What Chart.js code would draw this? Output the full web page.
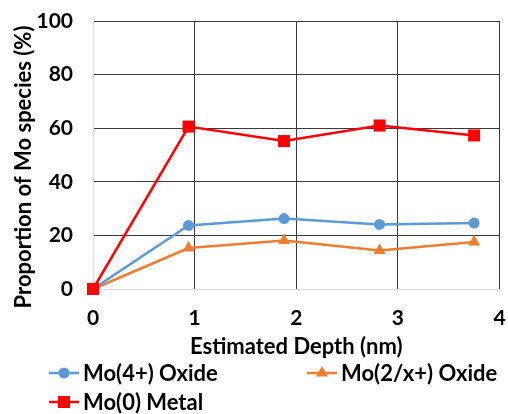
<!DOCTYPE html>
<html>
<head>
<meta charset="utf-8">
<script src="https://cdn.jsdelivr.net/npm/chart.js@4"></script>
<style>
  body{margin:0;background:#fff;}
  #wrap{width:508px;height:414px;}
</style>
</head>
<body>
<div id="wrap"><canvas id="grafico" width="508" height="414"></canvas></div>
<script>
// depth in nm and species proportions in %
const depth = [0, 0.94, 1.88, 2.82, 3.75];
const mo4Oxide = [0, 23.7, 26.3, 24.1, 24.6];
const mo2xOxide = [0, 15.3, 18.1, 14.4, 17.5];
const mo0Metal = [0, 60.6, 55.2, 61.0, 57.3];
const seriesNames = ['Mo(4+) Oxide', 'Mo(2/x+) Oxide', 'Mo(0) Metal'];
const yTitle = 'Proportion of Mo species (%)';
const xTitle = 'Estimated Depth (nm)';

const FUENTE = 'Lato, "Open Sans", sans-serif';

function puntos(valores){
    return depth.map((d, i) => ({x: d, y: valores[i]}));
}

// legend drawn by hand: two columns, third entry on a second row
const leyendaPos = [
    {x: 49, y: 373},
    {x: 307, y: 373},
    {x: 49, y: 402},
];
const leyenda = {
    id: 'leyenda',
    afterDraw(chart){
        const ctx = chart.ctx;
        chart.data.datasets.forEach((ds, i) => {
            const p = leyendaPos[i];
            ctx.save();
            ctx.strokeStyle = ds.borderColor;
            ctx.lineWidth = ds.borderWidth;
            ctx.beginPath();
            ctx.moveTo(p.x, p.y);
            ctx.lineTo(p.x + 30, p.y);
            ctx.stroke();
            ctx.fillStyle = ds.pointBackgroundColor;
            ctx.strokeStyle = ds.pointBorderColor;
            Chart.helpers.drawPoint(ctx, {
                pointStyle: ds.pointStyle,
                radius: ds.pointRadius,
                borderWidth: 0,
                rotation: 0
            }, p.x + 15, p.y);
            ctx.fillStyle = '#000';
            ctx.font = 'bold 22px ' + FUENTE;
            ctx.textBaseline = 'middle';
            ctx.textAlign = 'left';
            ctx.fillText(ds.label, p.x + 34, p.y + 1);
            ctx.restore();
        });
    }
};

// y axis title sits a bit below the middle of the plot
const tituloY = {
    id: 'tituloY',
    afterDraw(chart){
        const ctx = chart.ctx;
        ctx.save();
        ctx.translate(24, 167);
        ctx.rotate(-Math.PI / 2);
        ctx.fillStyle = '#000';
        ctx.font = 'bold 22px ' + FUENTE;
        ctx.textAlign = 'center';
        ctx.textBaseline = 'middle';
        ctx.fillText(yTitle, 0, 0);
        ctx.restore();
    }
};

const gris = '#d9d9d9';
const oscuro = '#3a3a3a';

let datos = {
    datasets: [
        {
            label: seriesNames[0],
            data: puntos(mo4Oxide),
            borderColor: '#5b9bd5',
            backgroundColor: '#5b9bd5',
            pointBackgroundColor: '#5b9bd5',
            pointBorderColor: '#5b9bd5',
            pointStyle: 'circle',
            pointRadius: 5.5,
            pointBorderWidth: 0,
            borderWidth: 2.5,
            order: 1,
        },
        {
            label: seriesNames[1],
            data: puntos(mo2xOxide),
            borderColor: '#ed7d31',
            backgroundColor: '#ed7d31',
            pointBackgroundColor: '#ed7d31',
            pointBorderColor: '#ed7d31',
            pointStyle: 'triangle',
            pointRadius: 7,
            pointBorderWidth: 0,
            borderWidth: 2.5,
            order: 2,
        },
        {
            label: seriesNames[2],
            data: puntos(mo0Metal),
            borderColor: '#ff0000',
            backgroundColor: '#ff0000',
            pointBackgroundColor: '#ff0000',
            pointBorderColor: '#ff0000',
            pointStyle: 'rect',
            pointRadius: 8.5,
            pointBorderWidth: 0,
            borderWidth: 2.5,
            order: 0,
        },
    ]
};

let opciones = {
    responsive: false,
    animation: false,
    clip: false,
    layout: {padding: {top: 21, right: 6, left: 0, bottom: 0}},
    plugins: {
        legend: {display: false},
        tooltip: {enabled: false},
    },
    scales: {
        x: {
            type: 'linear',
            min: 0,
            max: 4,
            afterFit(scale){
                scale.height = 125;
                scale.paddingLeft = 0;
                scale.paddingRight = 0;
            },
            ticks: {
                stepSize: 1,
                color: '#000',
                padding: 17,
                font: {family: FUENTE, size: 21, weight: 'bold'},
            },
            grid: {
                drawTicks: false,
                lineWidth: 1,
                color: ctx => ctx.tick && ctx.tick.value === 0 ? gris : oscuro,
            },
            border: {color: gris, width: 1},
            title: {
                display: true,
                text: xTitle,
                color: '#000',
                font: {family: FUENTE, size: 22, weight: 'bold'},
                padding: {top: 0, bottom: 54},
            },
        },
        y: {
            min: 0,
            max: 100,
            afterFit(scale){
                scale.width = 93;
                scale.paddingTop = 0;
                scale.paddingBottom = 0;
            },
            ticks: {
                stepSize: 20,
                color: '#000',
                padding: 20,
                font: {family: FUENTE, size: 21, weight: 'bold'},
            },
            grid: {
                drawTicks: false,
                lineWidth: 1,
                color: ctx => ctx.tick && ctx.tick.value === 0 ? gris : oscuro,
            },
            border: {color: gris, width: 1},
            title: {display: false},
        },
    },
};

let G1 = new Chart(document.getElementById('grafico').getContext('2d'), {
    type: 'line',
    data: datos,
    options: opciones,
    plugins: [leyenda, tituloY],
});
</script>
</body>
</html>
